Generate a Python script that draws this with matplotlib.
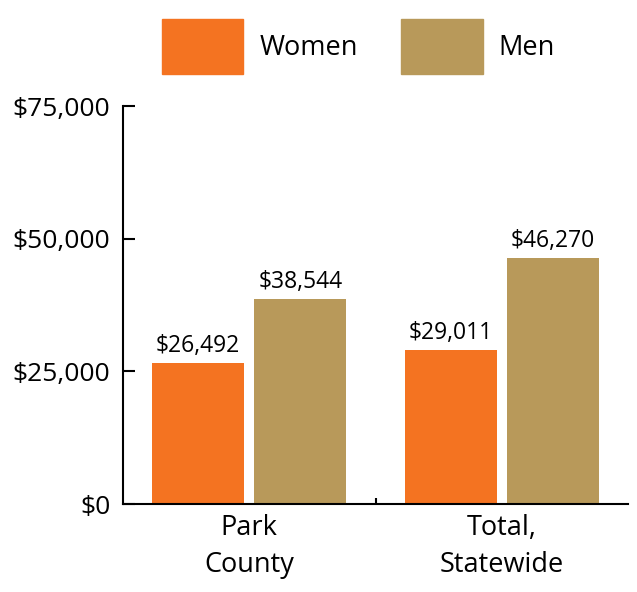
import matplotlib
matplotlib.use("Agg")
import matplotlib.pyplot as plt
from matplotlib.patches import Patch
import numpy as np

plt.rcParams['font.family'] = ['Open Sans', 'DejaVu Sans']

categories = ["Park\nCounty", "Total,\nStatewide"]
series_names = ["Women", "Men"]
women = [26492, 29011]
men = [38544, 46270]
colors = ["#F47321", "#B8995A"]
yticks = [0, 25000, 50000, 75000]
ytick_labels = ["$0", "$25,000", "$50,000", "$75,000"]

fig = plt.figure(figsize=(6.37, 5.92), dpi=100)
ax = fig.add_axes([0.193, 0.1486, 0.793, 0.6723])

x = np.arange(len(categories))
w = 0.364
off = 0.202
b1 = ax.bar(x - off, women, width=w, color=colors[0])
b2 = ax.bar(x + off, men, width=w, color=colors[1])
for bars, vals in ((b1, women), (b2, men)):
    ax.bar_label(bars, labels=[f"${v:,}" for v in vals], padding=4, fontsize=16.5)

ax.set_xlim(-0.5, 1.5)
ax.set_ylim(0, 75000)
ax.set_yticks(yticks)
ax.set_yticklabels(ytick_labels, fontsize=19)
ax.set_xticks(x)
ax.set_xticklabels(categories, fontsize=19.5, linespacing=1.45)
ax.tick_params(axis='x', length=0, pad=7)
ax.set_xticks([0.5], minor=True)
ax.tick_params(axis='x', which='minor', direction='in', length=4, width=1.5)
ax.tick_params(axis='y', direction='in', length=8.5, width=1.5, pad=9)

for s in ['top', 'right']:
    ax.spines[s].set_visible(False)
for s in ['left', 'bottom']:
    ax.spines[s].set_linewidth(1.5)

handles = [Patch(color=c) for c in colors]
fig.legend(handles, series_names, loc='center', bbox_to_anchor=(0.563, 0.921),
           ncol=2, frameon=False, fontsize=19.5, handlelength=3.0,
           handleheight=2.75, handletextpad=0.6, columnspacing=1.6)

fig.savefig("out.png", dpi=100)
